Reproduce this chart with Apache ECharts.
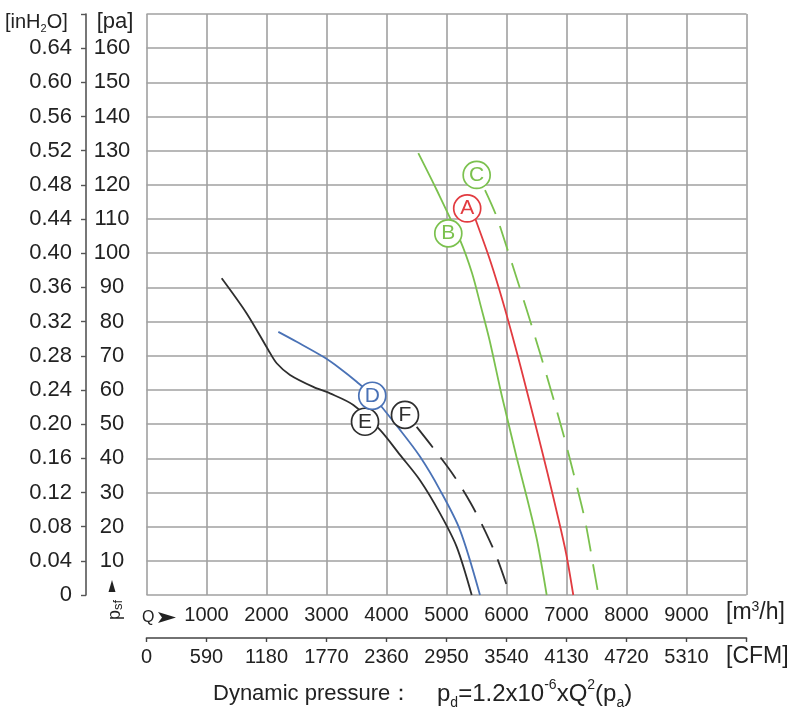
<!DOCTYPE html>
<html><head><meta charset="utf-8">
<script src="https://cdn.jsdelivr.net/npm/echarts@6/dist/echarts.min.js"></script>
<style>html,body{margin:0;padding:0;background:#fff}#c{width:797px;height:720px}</style>
</head><body><div id="c"></div>
<script>
// ---- tick labels ----
const m3hLabels = ['', '1000', '2000', '3000', '4000', '5000', '6000', '7000', '8000', '9000', ''];
const cfmLabels = ['0', '590', '1180', '1770', '2360', '2950', '3540', '4130', '4720', '5310', ''];
const paLabels = ['', '10', '20', '30', '40', '50', '60', '70', '80', '90', '100', '110', '120', '130', '140', '150', '160', ''];
const inH2OLabels = ['0', '0.04', '0.08', '0.12', '0.16', '0.20', '0.24', '0.28', '0.32', '0.36', '0.40', '0.44', '0.48', '0.52', '0.56', '0.60', '0.64', ''];

// ---- curves: [airflow m3/h, static pressure pa] ----
const curveA = [[5475,110.3],[5708,98.9],[5867,90.1],[6025,80.5],[6175,70.8],[6292,62.9],[6475,50.3],[6683,35.7],[6842,24.0],[6992,12.3],[7113,0]];
const curveB = [[4530,129.3],[4837,118.5],[5225,103.9],[5425,94.2],[5575,84.3],[5717,74.6],[5900,60.0],[5992,53.2],[6167,40.4],[6350,27.8],[6508,16.1],[6670,0]];
const curveC = [[5642,118.5],[5825,111.2],[5992,102.4],[6217,90.1],[6442,77.5],[6667,64.4],[6942,47.4],[7133,34.5],[7308,21.9],[7450,8.2],[7533,0]];
const curveD = [[2197,77.0],[2503,74.1],[2947,69.7],[3225,66.3],[3503,62.4],[3763,58.3],[4225,48.3],[4558,40.5],[4892,30.7],[5225,19.0],[5558,0]];
const curveE = [[1253,92.7],[1670,82.4],[2030,71.7],[2170,67.8],[2392,64.4],[2780,60.9],[3058,59.0],[3447,55.6],[3892,48.3],[4225,41.0],[4558,33.6],[4892,23.9],[5170,14.1],[5420,0]];
const curveF = [[4503,49.2],[4780,43.0],[5100,35.5],[5400,27.0],[5650,18.5],[5850,10.5],[6058,0]];

// ---- curve label positions ----
const labelA = [5345,113.1];
const labelB = [5030,105.8];
const labelC = [5503,122.9];
const labelD = [3763,58.3];
const labelE = [3642,50.7];
const labelF = [4308,52.7];

const FONT = 'Liberation Sans, Arial, Helvetica, sans-serif';
const RED = '#e23b40', GREEN = '#7bc14e', BLUE = '#4a72b6', BLACK = '#2e2e2e';
const GRID = '#a0a0a0', TXT = '#222';

function lineSeries(name, data, color, dashed) {
  return {
    name: name, type: 'line', data: data, xAxisIndex: 0, yAxisIndex: 0,
    showSymbol: false, smooth: 0.3, z: 3,
    lineStyle: { color: color, width: 1.8, type: dashed ? [26, 13] : 'solid' }
  };
}
function labelSeries(name, pos, color) {
  return {
    name: name + '-label', type: 'scatter', xAxisIndex: 0, yAxisIndex: 0, z: 6,
    data: [pos], symbol: 'circle', symbolSize: 27,
    itemStyle: { color: '#fff', borderColor: color, borderWidth: 1.7, opacity: 1 },
    label: { show: true, position: 'inside', formatter: name, color: color,
      fontSize: 21, fontFamily: FONT },
    emphasis: { disabled: true }
  };
}

const chart = echarts.init(document.getElementById('c'), null, { renderer: 'canvas' });
chart.setOption({
  animation: false,
  backgroundColor: '#fff',
  textStyle: { fontFamily: FONT },
  grid: { left: 146.5, right: 50.5, top: 14, bottom: 125, containLabel: false },
  xAxis: [
    { type: 'value', min: 0, max: 10000, interval: 1000, position: 'bottom',
      axisLine: { show: false, onZero: false }, axisTick: { show: false },
      splitLine: { show: true, lineStyle: { color: GRID, width: 1.6 } },
      axisLabel: { margin: 10, fontSize: 20, color: TXT, fontFamily: FONT,
        formatter: v => m3hLabels[Math.round(v / 1000)] } },
    { type: 'value', min: 0, max: 10000, interval: 1000, position: 'bottom', offset: 43,
      axisLine: { show: true, onZero: false, lineStyle: { color: '#444', width: 1.6 } },
      axisTick: { show: true, length: 4, lineStyle: { color: '#444', width: 1.4 } },
      splitLine: { show: false },
      axisLabel: { margin: 9, fontSize: 20, color: TXT, fontFamily: FONT,
        formatter: v => cfmLabels[Math.round(v / 1000)] } }
  ],
  yAxis: [
    { type: 'value', min: 0, max: 170, interval: 10, position: 'left',
      axisLine: { show: false, onZero: false }, axisTick: { show: false },
      splitLine: { show: true, lineStyle: { color: GRID, width: 1.6 } },
      axisLabel: { margin: 34.5, align: 'center', fontSize: 22, color: TXT, fontFamily: FONT,
        formatter: v => paLabels[Math.round(v / 10)] } },
    { type: 'value', min: 0, max: 170, interval: 10, position: 'left', offset: 60.5,
      axisLine: { show: true, onZero: false, lineStyle: { color: '#555', width: 1.6 } },
      axisTick: { show: true, length: 5, lineStyle: { color: '#555', width: 1.4 } },
      splitLine: { show: false },
      axisLabel: { margin: 14, fontSize: 22, color: TXT, fontFamily: FONT,
        formatter: v => inH2OLabels[Math.round(v / 10)] } }
  ],
  series: [
    lineSeries('E', curveE, BLACK, false),
    lineSeries('F', curveF, BLACK, true),
    lineSeries('D', curveD, BLUE, false),
    lineSeries('B', curveB, GREEN, false),
    lineSeries('C', curveC, GREEN, true),
    lineSeries('A', curveA, RED, false),
    labelSeries('E', labelE, BLACK),
    labelSeries('F', labelF, BLACK),
    labelSeries('D', labelD, BLUE),
    labelSeries('B', labelB, GREEN),
    labelSeries('C', labelC, GREEN),
    labelSeries('A', labelA, RED)
  ],
  graphic: [
    { type: 'text', x: 5, y: 22, z: 10, style: {
        text: '{n|[inH}{s|2}{n|O]}', align: 'left', verticalAlign: 'middle', fill: TXT,
        rich: { n: { fontSize: 20, fontFamily: FONT, lineHeight: 24 },
                s: { fontSize: 11, fontFamily: FONT, verticalAlign: 'bottom', lineHeight: 14 } } } },
    { type: 'text', x: 115, y: 22, z: 10, style: {
        text: '[pa]', fontSize: 22, fontFamily: FONT, fill: TXT, align: 'center', verticalAlign: 'middle' } },
    { type: 'polygon', z: 10, shape: { points: [[108.5, 592], [115.5, 592], [112, 580]] }, style: { fill: '#222' } },
    { type: 'text', x: 115, y: 610, rotation: Math.PI / 2, z: 10, style: {
        text: '{p|p}{s|sf}', align: 'center', verticalAlign: 'middle', fill: TXT,
        rich: { p: { fontSize: 18, fontFamily: FONT, lineHeight: 20 },
                s: { fontSize: 13, fontFamily: FONT, verticalAlign: 'bottom', lineHeight: 14 } } } },
    { type: 'text', x: 142, y: 618, z: 10, style: {
        text: 'Q', fontSize: 16, fontFamily: FONT, fill: TXT, align: 'left', verticalAlign: 'middle' } },
    { type: 'polygon', z: 10, shape: { points: [[158, 612], [176, 617.5], [158, 623], [162, 617.5]] }, style: { fill: '#222' } },
    { type: 'text', x: 726, y: 613, z: 10, style: {
        text: '{n|[m}{s|3}{n|/h]}', align: 'left', verticalAlign: 'middle', fill: TXT,
        rich: { n: { fontSize: 23, fontFamily: FONT, lineHeight: 26 },
                s: { fontSize: 14, fontFamily: FONT, verticalAlign: 'top', lineHeight: 20 } } } },
    { type: 'text', x: 726, y: 657, z: 10, style: {
        text: '[CFM]', fontSize: 23, fontFamily: FONT, fill: TXT, align: 'left', verticalAlign: 'middle' } },
    { type: 'text', x: 213, y: 694, z: 10, style: {
        text: 'Dynamic pressure：', fontSize: 22, fontFamily: FONT, fill: TXT, align: 'left', verticalAlign: 'middle' } },
    { type: 'text', x: 437, y: 694, z: 10, style: {
        text: '{n|p}{sub|d}{n|=1.2x10}{sup|-6}{n|xQ}{sup|2}{n|(p}{sub|a}{n|)}',
        align: 'left', verticalAlign: 'middle', fill: TXT,
        rich: { n: { fontSize: 24, fontFamily: FONT, lineHeight: 32 },
                sup: { fontSize: 14, fontFamily: FONT, verticalAlign: 'top', lineHeight: 22 },
                sub: { fontSize: 14, fontFamily: FONT, verticalAlign: 'bottom', lineHeight: 12 } } } }
  ]
});
</script>
</body></html>
